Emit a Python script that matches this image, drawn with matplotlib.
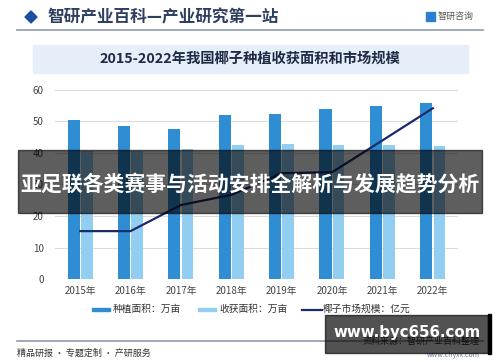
import matplotlib
matplotlib.use("Agg")
import matplotlib.pyplot as plt
import numpy as np
from matplotlib.patches import Rectangle, Polygon

plt.rcParams['font.family'] = ['Noto Sans CJK SC', 'DejaVu Sans']

# data
years = ['2015年', '2016年', '2017年', '2018年', '2019年', '2020年', '2021年', '2022年']
planted_area = [50.5, 48.6, 47.5, 52.1, 52.3, 53.9, 55.0, 56.0]     # 种植面积：万亩
harvest_area = [40.7, 40.7, 41.3, 42.5, 42.8, 42.5, 42.5, 42.1]     # 收获面积：万亩
market_size = [15.2, 15.2, 23.5, 26.7, 33.6, 33.9, 44.0, 54.2]      # 椰子市场规模：亿元
yticks = [0, 10, 20, 30, 40, 50, 60]
legend_labels = ['种植面积：万亩', '收获面积：万亩', '椰子市场规模：亿元']

W, H = 500, 362
fig = plt.figure(figsize=(W / 100, H / 100), dpi=100)
fig.patch.set_facecolor('white')


def fx(x):
    return x / W


def fy(y):
    return 1 - y / H


# header
fig.patches.append(Polygon([[fx(25), fy(17)], [fx(31), fy(11)], [fx(37), fy(17)], [fx(31), fy(23)]],
                           closed=True, transform=fig.transFigure, color='#1d4fa0'))
fig.text(fx(47), fy(17), '智研产业百科—产业研究第一站', fontsize=12, fontweight='bold',
         color='#2f3f62', va='center', ha='left')
fig.patches.append(Rectangle((fx(426), fy(21)), fx(9), 9 / H, transform=fig.transFigure, color='#2b7fd0'))
fig.text(fx(438), fy(16), '智研咨询', fontsize=6.5, color='#555555', va='center', ha='left')
fig.lines.append(plt.Line2D([fx(17), fx(483)], [fy(30), fy(30)], transform=fig.transFigure,
                            color='#8d9bb0', lw=1.2))

# title box
fig.patches.append(Rectangle((fx(33), fy(73)), fx(435), 28 / H, transform=fig.transFigure,
                             color='#e5eef9', zorder=0))
fig.text(fx(250), fy(59), '2015-2022年我国椰子种植收获面积和市场规模', fontsize=10.3,
         fontweight='bold', color='#1f2a44', ha='center', va='center')

# chart
ax = fig.add_axes([fx(55), 83 / H, 403 / W, 189 / H])
x = np.arange(len(years))
ax.bar(x - 0.13, planted_area, width=0.24, color='#2e8dd3', zorder=2)
ax.bar(x + 0.13, harvest_area, width=0.23, color='#92cdf2', zorder=2)
ax.plot(x, market_size, color='#1b2a6b', lw=1.6, zorder=3)
ax.set_xlim(-0.5, len(years) - 0.5)
ax.set_ylim(0, 60)
ax.set_yticks(yticks)
ax.set_xticks(x)
ax.set_xticklabels(years)
ax.tick_params(length=0, labelsize=7, colors='#444444')
ax.tick_params(axis='y', pad=8)
ax.tick_params(axis='x', pad=5)
ax.grid(axis='y', color='#dcdcdc', lw=0.8, zorder=0)
for s in ax.spines.values():
    s.set_visible(False)

# legend
fig.patches.append(Rectangle((fx(92), fy(311)), fx(18), 3 / H, transform=fig.transFigure, color='#2e8dd3'))
fig.text(fx(113), fy(309), legend_labels[0], fontsize=7, color='#333333', va='center')
fig.patches.append(Rectangle((fx(198), fy(311)), fx(18), 3 / H, transform=fig.transFigure, color='#92cdf2'))
fig.text(fx(219), fy(309), legend_labels[1], fontsize=7, color='#333333', va='center')
fig.lines.append(plt.Line2D([fx(302), fx(322)], [fy(310), fy(310)], transform=fig.transFigure,
                            color='#1b2a6b', lw=1.6))
fig.text(fx(323), fy(309), legend_labels[2], fontsize=7, color='#333333', va='center')

# footer
fig.lines.append(plt.Line2D([fx(17), fx(483)], [fy(341), fy(341)], transform=fig.transFigure,
                            color='#8d9bb0', lw=1.2))
fig.text(fx(17), fy(353), '精品研报 · 专题定制 · 产研服务', fontsize=6.5, color='#333333', va='center')
fig.text(fx(480), fy(341), '资料来源：智研产业百科整理', fontsize=6.5, color='#333333', va='center', ha='right')
fig.text(fx(480), fy(355), 'www.chyxx.com', fontsize=5, color='#6b7fa0', va='center', ha='right')

# overlay band
fig.patches.append(Rectangle((fx(18), fy(213)), fx(464), 63 / H, transform=fig.transFigure,
                             color='black', alpha=0.63, zorder=10))
fig.text(fx(250), fy(185), '亚足联各类赛事与活动安排全解析与发展趋势分析', fontsize=15,
         fontweight='bold', color='white', ha='center', va='center', zorder=11)

# url box
fig.patches.append(Rectangle((fx(325), fy(353)), fx(163), 38 / H, transform=fig.transFigure,
                             color='black', alpha=0.68, zorder=10))
fig.patches.append(Rectangle((fx(488), fy(354)), fx(3), 40 / H, transform=fig.transFigure,
                             color='black', zorder=10))
fig.text(fx(407), fy(333), 'www.byc656.com', fontsize=10.8, fontweight='bold', color='white',
         ha='center', va='center', zorder=11, family='DejaVu Sans')

fig.savefig('out.png', dpi=100)
